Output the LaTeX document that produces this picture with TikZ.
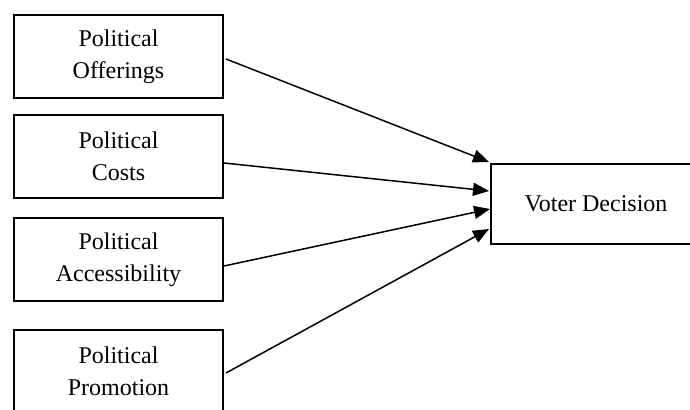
\documentclass[tikz,border=0pt]{standalone}
\usepackage{fontspec}
\setmainfont{Liberation Serif}
\usetikzlibrary{arrows.meta,calc}
\begin{document}
\begin{tikzpicture}[x=0.5pt,y=-0.5pt,
  factor/.style={draw,line width=1pt,rectangle,inner sep=0pt,
    minimum width=104.5pt,minimum height=41.5pt,align=center,
    font=\fontsize{12}{16}\selectfont},
  result/.style={draw,line width=1pt,rectangle,inner sep=0pt,
    minimum width=105pt,minimum height=40pt,align=center,
    font=\fontsize{12}{16}\selectfont},
  arr/.style={line width=0.75pt,-{Triangle[length=8pt,width=6.5pt]}}]
\useasboundingbox (0,0) rectangle (690,410);
\begin{scope}
\clip (0,0) rectangle (690,410);
\node[factor] (b1) at (118.5,56.5) {Political\\Offerings};
\node[factor] (b2) at (118.5,156.5) {Political\\Costs};
\node[factor] (b3) at (118.5,259.5) {Political\\Accessibility};
\node[factor] (b4) at (118.5,371.5) {Political\\Promotion};
\node[result] (vd) at (596,204) {Voter Decision};
\draw[arr] ($(b1.east)+(2,2.5)$) -- ($(vd.north west)+(-1,-1)$);
\draw[arr] ($(b2.east)+(0,6.5)$) -- ($(vd.west)+(-1,-13)$);
\draw[arr] ($(b3.east)+(0,6.5)$) -- ($(vd.west)+(0,5)$);
\draw[arr] ($(b4.east)+(2,1.5)$) -- ($(vd.west)+(-1,25)$);
\end{scope}
\end{tikzpicture}
\end{document}
